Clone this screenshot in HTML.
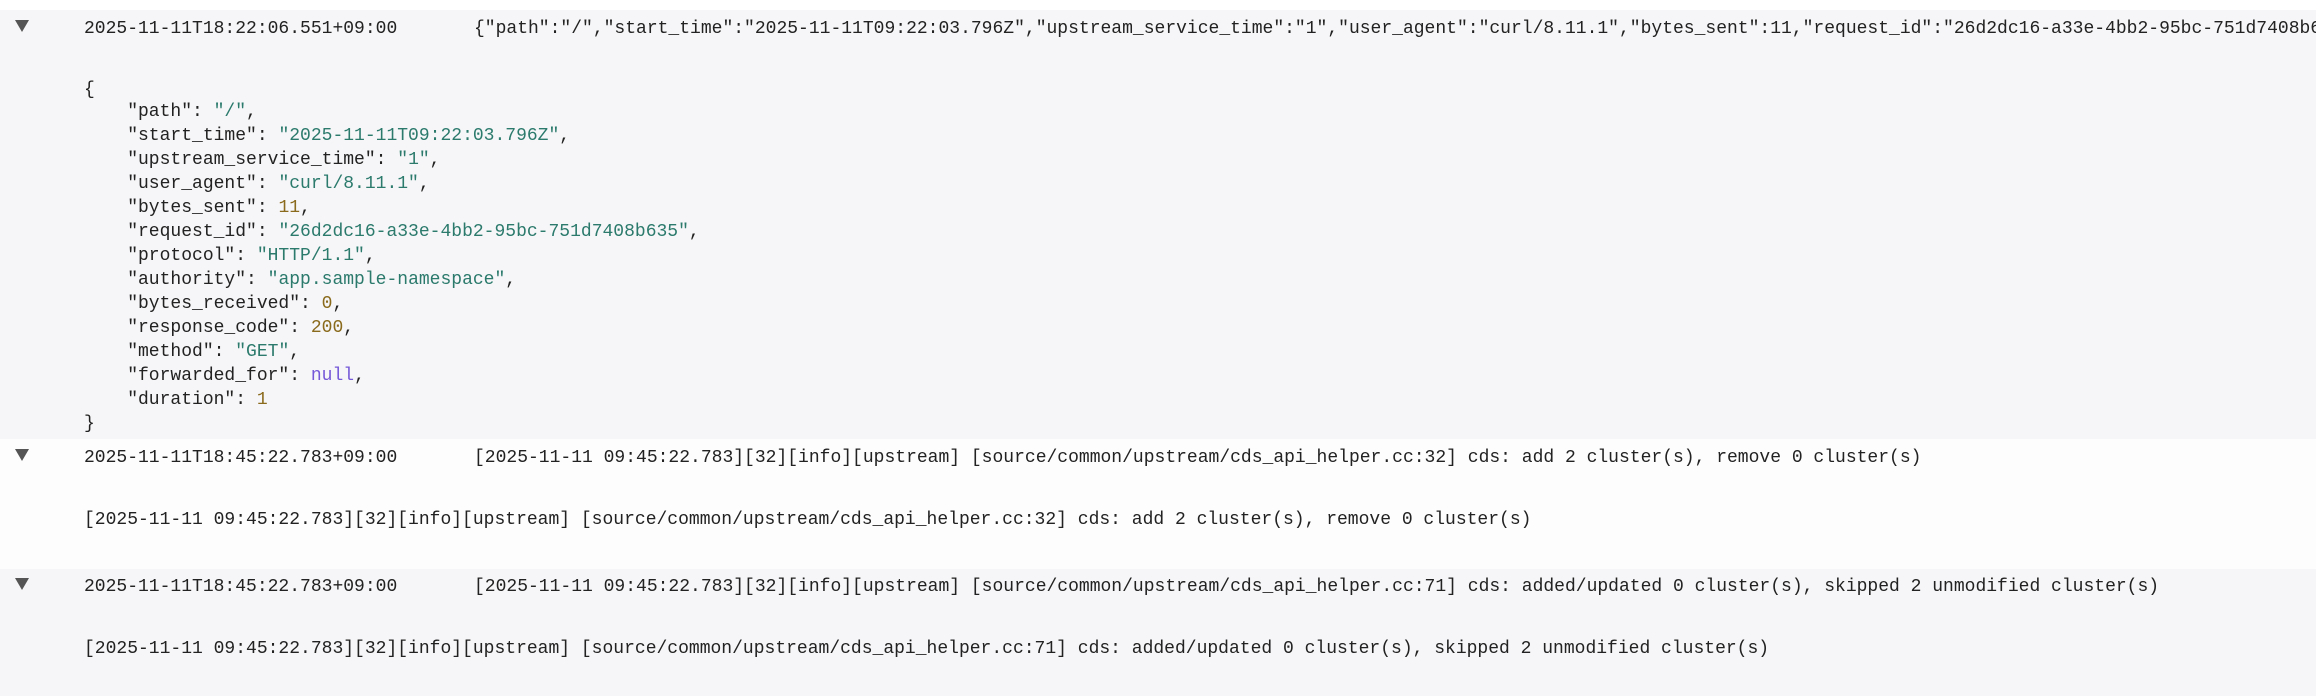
<!DOCTYPE html>
<html><head><meta charset="utf-8"><style>
html,body{margin:0;padding:0;width:2316px;height:696px;overflow:hidden;background:#fff}
.bg{position:absolute;left:0;width:2316px}
.t{position:absolute;white-space:pre;font-family:"Liberation Mono",monospace;font-size:18px;letter-spacing:0px;color:#222;line-height:22px}
.s{color:#2b7a6c}.n{color:#8a6a1c}.k{color:#7558d8}
.tri{position:absolute;left:15px;width:0;height:0;border-left:7px solid transparent;border-right:7px solid transparent;border-top:12px solid #555}
</style></head><body>
<div class="bg" style="top:10px;height:429px;background:#f6f6f8"></div>
<div class="bg" style="top:439px;height:130px;background:#fdfdfd"></div>
<div class="bg" style="top:569px;height:127px;background:#f6f6f8"></div>

<div class="tri" style="top:20px"></div>
<div class="t" style="left:84px;top:18px">2025-11-11T18:22:06.551+09:00</div>
<div class="t" style="left:474px;top:18px">{"path":"/","start_time":"2025-11-11T09:22:03.796Z","upstream_service_time":"1","user_agent":"curl/8.11.1","bytes_sent":11,"request_id":"26d2dc16-a33e-4bb2-95bc-751d7408b6</div>

<div class="t" style="left:84px;top:79px">{</div>
<div class="t" style="left:84px;top:101px">    "path": <span class="s">"/"</span>,</div>
<div class="t" style="left:84px;top:125px">    "start_time": <span class="s">"2025-11-11T09:22:03.796Z"</span>,</div>
<div class="t" style="left:84px;top:149px">    "upstream_service_time": <span class="s">"1"</span>,</div>
<div class="t" style="left:84px;top:173px">    "user_agent": <span class="s">"curl/8.11.1"</span>,</div>
<div class="t" style="left:84px;top:197px">    "bytes_sent": <span class="n">11</span>,</div>
<div class="t" style="left:84px;top:221px">    "request_id": <span class="s">"26d2dc16-a33e-4bb2-95bc-751d7408b635"</span>,</div>
<div class="t" style="left:84px;top:245px">    "protocol": <span class="s">"HTTP/1.1"</span>,</div>
<div class="t" style="left:84px;top:269px">    "authority": <span class="s">"app.sample-namespace"</span>,</div>
<div class="t" style="left:84px;top:293px">    "bytes_received": <span class="n">0</span>,</div>
<div class="t" style="left:84px;top:317px">    "response_code": <span class="n">200</span>,</div>
<div class="t" style="left:84px;top:341px">    "method": <span class="s">"GET"</span>,</div>
<div class="t" style="left:84px;top:365px">    "forwarded_for": <span class="k">null</span>,</div>
<div class="t" style="left:84px;top:389px">    "duration": <span class="n">1</span></div>
<div class="t" style="left:84px;top:413px">}</div>

<div class="tri" style="top:449px"></div>
<div class="t" style="left:84px;top:447px">2025-11-11T18:45:22.783+09:00</div>
<div class="t" style="left:474px;top:447px">[2025-11-11 09:45:22.783][32][info][upstream] [source/common/upstream/cds_api_helper.cc:32] cds: add 2 cluster(s), remove 0 cluster(s)</div>
<div class="t" style="left:84px;top:509px">[2025-11-11 09:45:22.783][32][info][upstream] [source/common/upstream/cds_api_helper.cc:32] cds: add 2 cluster(s), remove 0 cluster(s)</div>

<div class="tri" style="top:578px"></div>
<div class="t" style="left:84px;top:576px">2025-11-11T18:45:22.783+09:00</div>
<div class="t" style="left:474px;top:576px">[2025-11-11 09:45:22.783][32][info][upstream] [source/common/upstream/cds_api_helper.cc:71] cds: added/updated 0 cluster(s), skipped 2 unmodified cluster(s)</div>
<div class="t" style="left:84px;top:638px">[2025-11-11 09:45:22.783][32][info][upstream] [source/common/upstream/cds_api_helper.cc:71] cds: added/updated 0 cluster(s), skipped 2 unmodified cluster(s)</div>
</body></html>
